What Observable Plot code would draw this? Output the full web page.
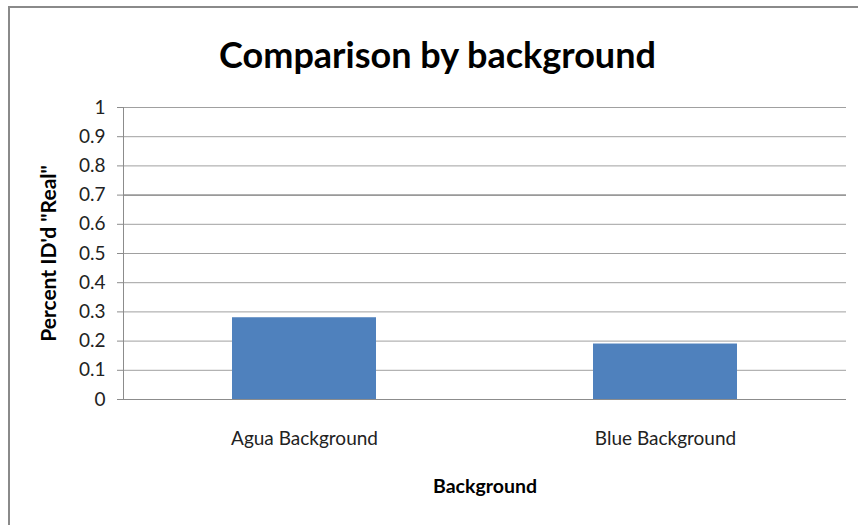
<!DOCTYPE html>
<html>
<head>
<meta charset="utf-8">
<script src="https://cdn.jsdelivr.net/npm/d3@7"></script>
<script src="https://cdn.jsdelivr.net/npm/@observablehq/plot@0.6"></script>
<style>
  html, body { margin: 0; padding: 0; background: #fff; }
  #frame { position: absolute; left: 8px; top: 6px; width: 860px; height: 530px;
           border-left: 2px solid #8a8a8a; border-top: 2px solid #8a8a8a; box-sizing: border-box; }
  #chart { position: absolute; left: 0; top: 0; }
</style>
</head>
<body>
<div id="frame"></div>
<div id="chart"></div>
<script>
const categories = ["Agua Background", "Blue Background"];
const values = [0.28, 0.19];
const yTicks = [0, 0.1, 0.2, 0.3, 0.4, 0.5, 0.6, 0.7, 0.8, 0.9, 1];
const yTickLabels = ["0", "0.1", "0.2", "0.3", "0.4", "0.5", "0.6", "0.7", "0.8", "0.9", "1"];
const title = "Comparison by background";
const xTitle = "Background";
const yTitle = "Percent ID'd \"Real\"";

const data = categories.map((c, i) => ({category: c, value: values[i]}));
const font = "Lato, 'Open Sans', sans-serif";

const plot = Plot.plot({
  width: 858,
  height: 525,
  marginLeft: 123,
  marginRight: 12,
  marginTop: 107,
  marginBottom: 126,
  style: {fontFamily: font, background: "transparent"},
  x: {domain: categories, paddingInner: 0.6, paddingOuter: 0.3, label: null},
  y: {domain: [0, 1], label: null},
  marks: [
    Plot.gridY(yTicks, {stroke: "#a0a0a0", strokeOpacity: 1, strokeWidth: 1}),
    Plot.ruleY([0.7], {stroke: "#8a8a8a", strokeWidth: 1.4}),
    Plot.barY(data, {x: "category", y: "value", fill: "#4f81bd"}),
    Plot.ruleY([0], {stroke: "#8c8c8c", strokeWidth: 1.2}),
    Plot.frame({anchor: "left", stroke: "#8c8c8c"}),
    Plot.axisY({ticks: yTicks, tickFormat: d => yTickLabels[yTicks.indexOf(d)], tickSize: 6, tickPadding: 12,
      fontSize: 19, stroke: "#8c8c8c", color: "#222", label: null}),
    Plot.axisX({tickSize: 0, tickPadding: 32, fontSize: 19, color: "#222", label: null}),
    Plot.text([title], {frameAnchor: "top-left", dx: 437 - 123, dy: -51, text: d => d,
      fontSize: 36, fontWeight: "bold", fill: "#000", textAnchor: "middle", lineAnchor: "middle", fontFamily: font}),
    Plot.text([xTitle], {frameAnchor: "bottom", dy: 87, text: d => d,
      fontSize: 19.5, fontWeight: "bold", fill: "#000", textAnchor: "middle", lineAnchor: "middle", fontFamily: font}),
    Plot.text([yTitle], {frameAnchor: "left", dx: -74, rotate: -90, text: d => d,
      fontSize: 21, fontWeight: "bold", fill: "#000", textAnchor: "middle", lineAnchor: "middle", fontFamily: font})
  ]
});
document.getElementById("chart").appendChild(plot);
</script>
</body>
</html>
